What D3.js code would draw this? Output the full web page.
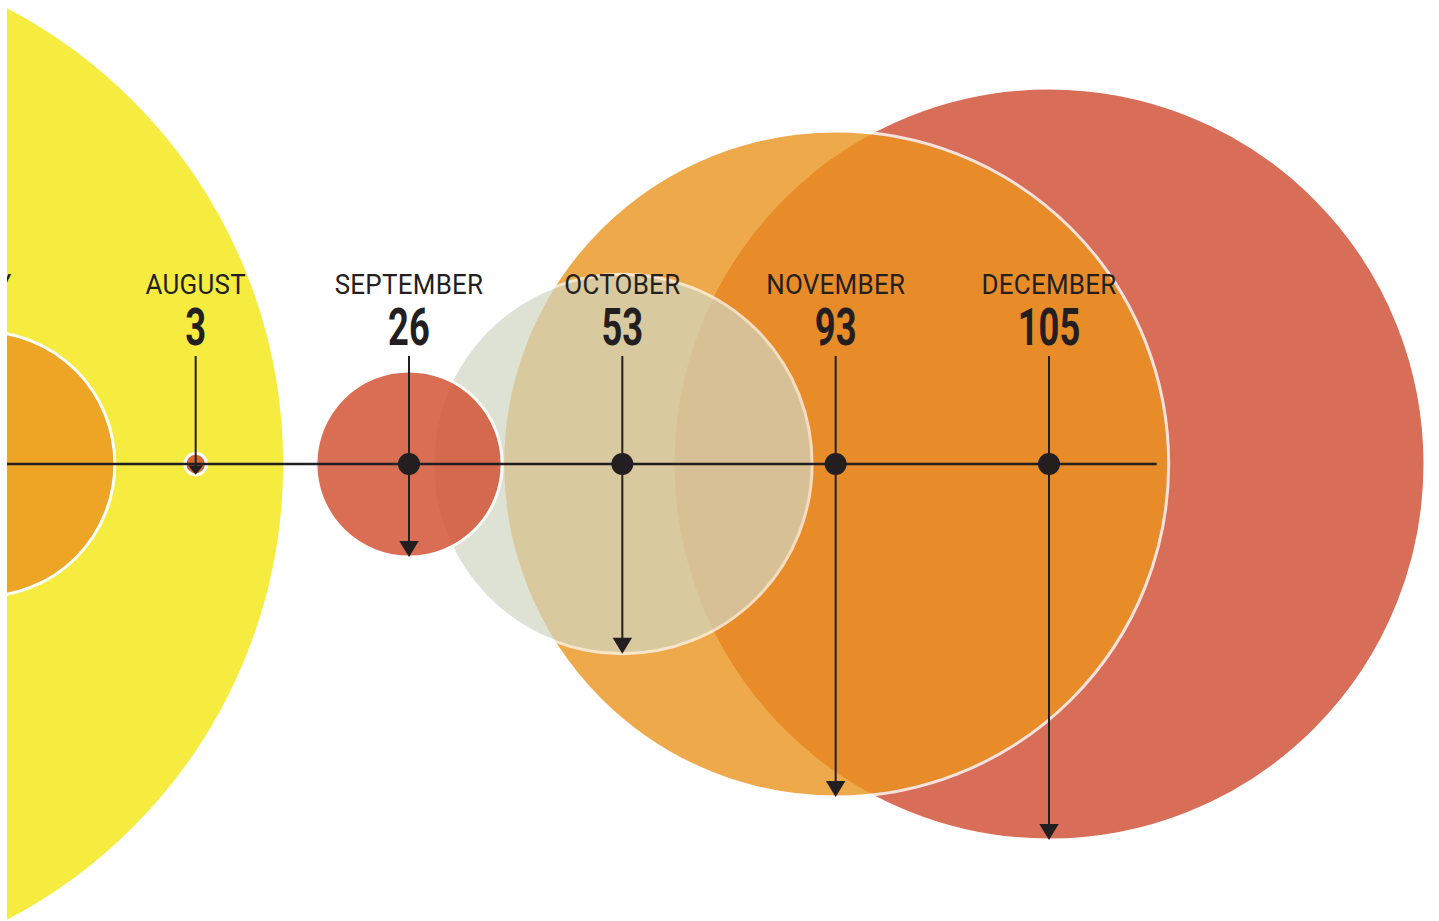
<!DOCTYPE html>
<html>
<head>
<meta charset="utf-8">
<script src="https://cdn.jsdelivr.net/npm/d3@7"></script>
<style>
    html, body { margin: 0; padding: 0; background: #fff; }
    svg { display: block; }
</style>
</head>
<body>
<div id="chart"></div>
<script>

// Data (June and July sit mostly off the left edge)
const months = ['JUNE', 'JULY', 'AUGUST', 'SEPTEMBER', 'OCTOBER', 'NOVEMBER', 'DECEMBER'];
const values = [144, 37, 3, 26, 53, 93, 105];

/**
 * @class MonthCircles
 */
class MonthCircles {

    configs = {
        w: 1439,
        h: 921,
        clipX: 7,
        axisY: 464,
        xRange: [-231, 1049],
        rMax: 376,
        vMax: 105,
        labelY: 294,
        numberY: 345,
        stemTop: 356,
        dotR: 11,
        headH: 16,
        headW: 19.5,
        ink: '#231f20',
        fills: ['#f6ec40', '#eea526', '#d6662f', '#d35537', '#d1d7c3', '#eb941e', '#d86e57'],
        alphas: [1, 1, 1, 0.85, 0.7, 0.8, 1],
    };

    els = {
        svg: null,
        g: null,
        circlesG: null,
        axisG: null,
        stemsG: null,
        labelsG: null,
    };

    tools = {
        scX: d3.scalePoint(),
        scR: d3.scaleLinear(),
        scFill: d3.scaleOrdinal(),
        scAlpha: d3.scaleOrdinal(),
    };

    data = [];

    constructor(_container) {
        this.container = _container;
        this.init();
        this.wrangle();
    }

    /** 1.
     * @function init
     */
    init() {
        const vis = this;

        // Build svg, clip, g
        vis.els.svg = d3.select(vis.container)
            .append('svg')
            .attr('width', vis.configs.w)
            .attr('height', vis.configs.h);
        vis.els.svg.append('clipPath')
            .attr('id', 'chart_clip')
            .append('rect')
            .attr('x', vis.configs.clipX)
            .attr('y', 0)
            .attr('width', vis.configs.w - vis.configs.clipX)
            .attr('height', vis.configs.h);
        vis.els.g = vis.els.svg.append('g')
            .attr('clip-path', 'url(#chart_clip)');

        // Layers
        vis.els.circlesG = vis.els.g.append('g').attr('class', 'circles_g');
        vis.els.axisG = vis.els.g.append('g').attr('class', 'axis_g');
        vis.els.stemsG = vis.els.g.append('g').attr('class', 'stems_g');
        vis.els.labelsG = vis.els.g.append('g').attr('class', 'labels_g');
    }

    /** 2.
     * @function wrangle
     */
    wrangle() {
        const vis = this;

        vis.data = months.map((m, i) => ({month: m, value: values[i]}));

        // Scales
        vis.tools.scX.domain(months).range(vis.configs.xRange).padding(0);
        vis.tools.scR.domain([0, vis.configs.vMax]).range([0, vis.configs.rMax]);
        vis.tools.scFill.domain(months).range(vis.configs.fills);
        vis.tools.scAlpha.domain(months).range(vis.configs.alphas);

        vis.render();
    }

    /** 3.
     * @function render
     */
    render() {
        const vis = this;
        const c = vis.configs;
        const x = vis.tools.scX;
        const r = vis.tools.scR;
        const step = x.step();

        // Circles, biggest underneath
        const sorted = vis.data.slice().sort((a, b) => b.value - a.value);
        vis.els.circlesG.selectAll('circle')
            .data(sorted)
            .join('circle')
            .attr('cx', d => x(d.month))
            .attr('cy', c.axisY)
            .attr('r', d => r(d.value))
            .attr('fill', d => vis.tools.scFill(d.month))
            .attr('opacity', d => vis.tools.scAlpha(d.month))
            .attr('stroke', '#fff')
            .attr('stroke-width', 3);

        // Horizontal rule
        vis.els.axisG.append('line')
            .attr('x1', x(months[0]) - step / 2)
            .attr('x2', x(months[months.length - 1]) + step / 2 + 1)
            .attr('y1', c.axisY)
            .attr('y2', c.axisY)
            .attr('stroke', c.ink)
            .attr('stroke-width', 2.5);

        // Stems + arrowheads
        const stems = vis.els.stemsG.selectAll('g')
            .data(vis.data)
            .join('g');
        stems.each(function(d) {
            const sel = d3.select(this);
            const cx = x(d.month);
            const rad = r(d.value);
            const tip = c.axisY + rad;
            const hh = Math.min(c.headH, rad * 0.85);
            const hw = Math.min(c.headW, rad * 1.4);
            sel.append('line')
                .attr('x1', cx)
                .attr('x2', cx)
                .attr('y1', c.stemTop)
                .attr('y2', tip - hh + 1)
                .attr('stroke', c.ink)
                .attr('stroke-width', 2);
            sel.append('path')
                .attr('d', `M${cx - hw / 2},${tip - hh}L${cx + hw / 2},${tip - hh}L${cx},${tip}Z`)
                .attr('fill', c.ink);
            if (rad > c.dotR * 2) {
                sel.append('circle')
                    .attr('cx', cx)
                    .attr('cy', c.axisY)
                    .attr('r', c.dotR)
                    .attr('fill', c.ink);
            }
        });

        // Labels
        const labels = vis.els.labelsG.selectAll('g')
            .data(vis.data)
            .join('g')
            .attr('transform', d => `translate(${x(d.month)},0)`);
        labels.append('text')
            .attr('transform', `translate(0,${c.labelY}) scale(0.96,1)`)
            .attr('text-anchor', 'middle')
            .attr('font-family', 'Roboto, sans-serif')
            .attr('font-weight', 400)
            .attr('font-size', 27)
            .attr('letter-spacing', 0.3)
            .attr('fill', c.ink)
            .text(d => d.month);
        labels.append('text')
            .attr('transform', `translate(0,${c.numberY}) scale(0.7,1)`)
            .attr('text-anchor', 'middle')
            .attr('font-family', 'Roboto, sans-serif')
            .attr('font-weight', 700)
            .attr('font-size', 52)
            .attr('fill', c.ink)
            .text(d => d.value);
    }
}

new MonthCircles(document.getElementById('chart'));

</script>
</body>
</html>
